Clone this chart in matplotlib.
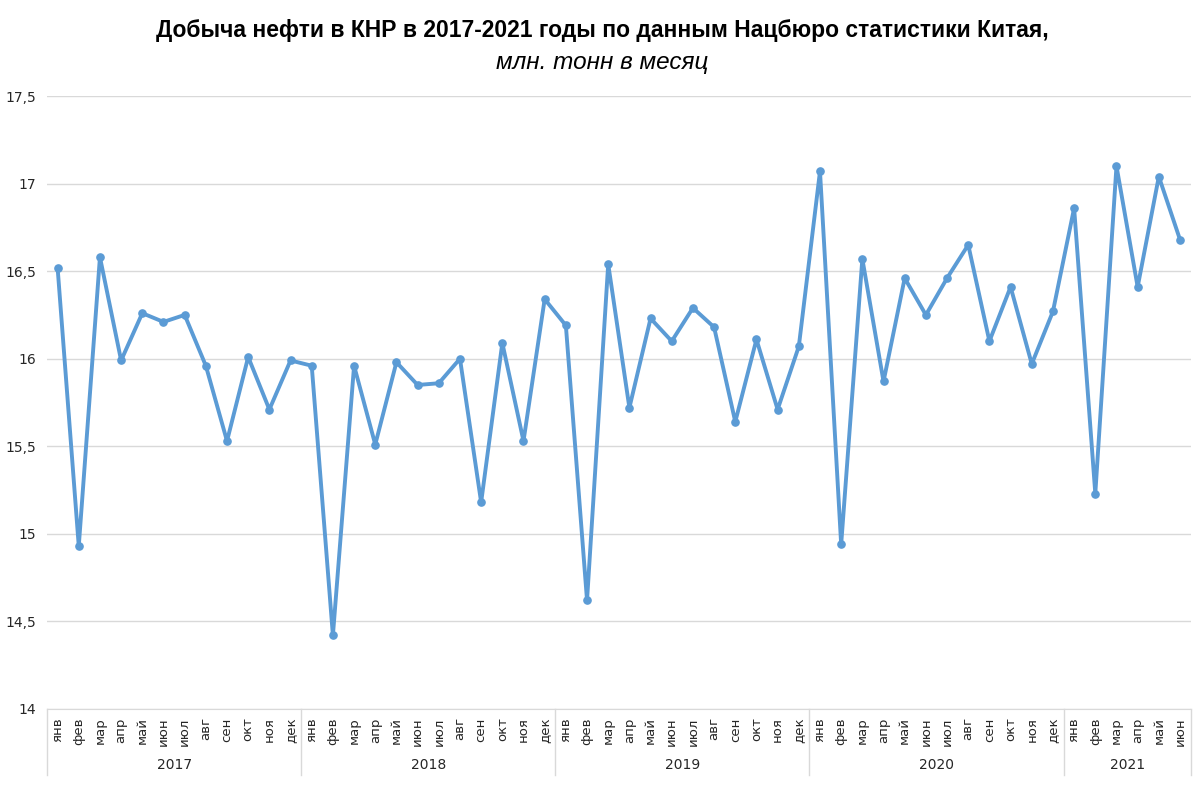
import matplotlib
matplotlib.use("Agg")
import matplotlib.pyplot as plt
import matplotlib.transforms as mtransforms
from matplotlib.lines import Line2D

# data, mln tonnes per month
years = ["2017", "2018", "2019", "2020", "2021"]
months = ["янв", "фев", "мар", "апр", "май", "июн",
          "июл", "авг", "сен", "окт", "ноя", "дек"]
v2017 = [16.52, 14.93, 16.58, 15.99, 16.26, 16.21, 16.25, 15.96, 15.53, 16.01, 15.71, 15.99]
v2018 = [15.96, 14.42, 15.96, 15.51, 15.98, 15.85, 15.86, 16.00, 15.18, 16.09, 15.53, 16.34]
v2019 = [16.19, 14.62, 16.54, 15.72, 16.23, 16.10, 16.29, 16.18, 15.64, 16.11, 15.71, 16.07]
v2020 = [17.07, 14.94, 16.57, 15.87, 16.46, 16.25, 16.46, 16.65, 16.10, 16.41, 15.97, 16.27]
v2021 = [16.86, 15.23, 17.10, 16.41, 17.04, 16.68]
yticks = [14, 14.5, 15, 15.5, 16, 16.5, 17, 17.5]

series = [v2017, v2018, v2019, v2020, v2021]
values = [v for s in series for v in s]
labels = [months[i] for s in series for i in range(len(s))]
x = list(range(len(values)))

blue = "#5B9BD5"
grid = "#D9D9D9"
txt = "#262626"

fig = plt.figure(figsize=(12.04, 7.85), dpi=100)
ax = fig.add_axes([47 / 1204, 1 - 709 / 785, (1190.6 - 47) / 1204, (709 - 96) / 785])

ax.plot(x, values, color=blue, lw=2.8, marker="o", ms=5.2,
        solid_joinstyle="round", zorder=3)

ax.set_xlim(-0.5, len(values) - 0.5)
ax.set_ylim(14, 17.5)
ax.set_yticks(yticks)
ax.set_yticklabels([("%g" % t).replace(".", ",") for t in yticks],
                   fontsize=10, color=txt, family="DejaVu Sans")
ax.yaxis.grid(True, color=grid, lw=1)
ax.set_axisbelow(True)
ax.tick_params(axis="y", length=0, pad=8)

ax.set_xticks(x)
ax.set_xticklabels(labels, rotation=90, fontsize=9.5, color=txt,
                   family="DejaVu Sans", va="top")
ax.tick_params(axis="x", length=0, pad=6)

for side in ["top", "right", "left"]:
    ax.spines[side].set_visible(False)
ax.spines["bottom"].set_color(grid)

# year group labels and separators under the axis
trans = mtransforms.blended_transform_factory(ax.transData, ax.transAxes)
drop = -66 / 613
pos = -0.5
bounds = [pos]
for yr, s in zip(years, series):
    mid = pos + len(s) / 2
    ax.text(mid, -56 / 613, yr, transform=trans, ha="center", va="center",
            fontsize=10, color=txt, family="DejaVu Sans")
    pos += len(s)
    bounds.append(pos)
for b in bounds:
    ax.add_line(Line2D([b, b], [0, drop], transform=trans, color=grid,
                       lw=1, clip_on=False))

fig.text(0.5, 1 - 30 / 785,
         "Добыча нефти в КНР в 2017-2021 годы по данным Нацбюро статистики Китая,",
         ha="center", va="center", fontsize=16.5, fontweight="bold",
         family="Liberation Sans", color="black")
fig.text(0.5, 1 - 62 / 785, "млн. тонн в месяц", ha="center", va="center",
         fontsize=17.5, style="italic", family="Liberation Sans", color="black")

fig.savefig("out.png", dpi=100, facecolor="white")
plt.close(fig)
